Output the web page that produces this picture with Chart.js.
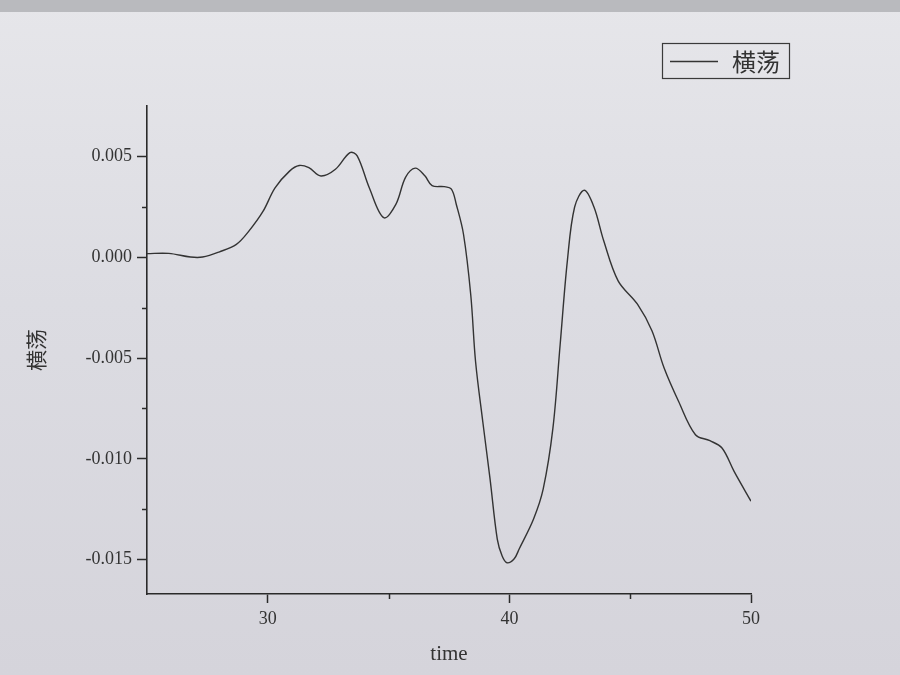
<!DOCTYPE html>
<html>
<head>
<meta charset="utf-8">
<script src="https://cdn.jsdelivr.net/npm/chart.js@4"></script>
<style>
  html, body { margin: 0; padding: 0; }
  body {
    width: 900px; height: 675px; overflow: hidden;
    background: linear-gradient(180deg, #e6e6ea 0%, #dcdce2 45%, #d5d4db 100%);
  }
  #bar { position: absolute; left: 0; top: 0; width: 900px; height: 12px; background: #b9babe; }
  #wrap { position: absolute; left: 0; top: 0; width: 900px; height: 675px; }
</style>
</head>
<body>
<div id="bar"></div>
<div id="wrap"><canvas id="chart"></canvas></div>
<script>
// values
const seriesName = "横荡";
const times = [
  25.0, 25.9, 26.8, 27.3, 28.0, 28.7, 29.2, 29.8, 30.3, 30.9,
  31.3, 31.7, 32.2, 32.8, 33.4, 33.7, 34.2, 34.8, 35.3, 35.7,
  36.1, 36.5, 36.8, 37.3, 37.6, 37.8, 38.1, 38.4, 38.6, 38.9,
  39.2, 39.5, 39.7, 39.9, 40.2, 40.4, 41.0, 41.4, 41.8, 42.1,
  42.4, 42.7, 43.1, 43.5, 43.9, 44.5, 45.3, 45.9, 46.4, 47.0,
  47.7, 48.3, 48.8, 49.3, 50.0
];
const sway = [
  0.00018, 0.00019, 0.00001, 0.00001, 0.00027, 0.00064, 0.00127, 0.00227, 0.00344, 0.00427,
  0.00455, 0.00444, 0.00403, 0.00436, 0.00519, 0.00503, 0.00345, 0.00196, 0.00262, 0.00396,
  0.00442, 0.00404, 0.00355, 0.00350, 0.00338, 0.00263, 0.00114, -0.00186, -0.00518, -0.00817,
  -0.01100, -0.01399, -0.01482, -0.01515, -0.01495, -0.01448, -0.01298, -0.01149, -0.00849, -0.00434,
  -0.00017, 0.00249, 0.00332, 0.00249, 0.00083, -0.00117, -0.00233, -0.00365, -0.00548, -0.00714,
  -0.00880, -0.00910, -0.00946, -0.01062, -0.01210
];
const xMajor = [30, 40, 50];
const xMinor = [35, 45];
const yMajor = [-0.015, -0.010, -0.005, 0.000, 0.005];
const yMinor = [-0.0125, -0.0075, -0.0025, 0.0025];

const axisColor = "#2a2a2a";
const tickFont = { family: "'Liberation Serif', 'DejaVu Serif', serif", size: 18 };
const cjkFont = "'Noto Sans CJK SC', 'Liberation Serif', serif";

const points = times.map((t, i) => ({ x: t, y: sway[i] }));

// Origin-style minor ticks and the boxed legend
const extras = {
  id: "extras",
  afterDraw(chart) {
    const ctx = chart.ctx;
    const xs = chart.scales.x, ys = chart.scales.y;
    const area = chart.chartArea;
    ctx.save();
    ctx.strokeStyle = axisColor;
    ctx.lineWidth = 1.5;
    xMinor.forEach(v => {
      const px = Math.round(xs.getPixelForValue(v)) + 0.5;
      ctx.beginPath(); ctx.moveTo(px, area.bottom); ctx.lineTo(px, area.bottom + 5); ctx.stroke();
    });
    yMinor.forEach(v => {
      const py = Math.round(ys.getPixelForValue(v)) + 0.5;
      ctx.beginPath(); ctx.moveTo(area.left, py); ctx.lineTo(area.left - 5, py); ctx.stroke();
    });

    // legend box
    ctx.lineWidth = 1.2;
    ctx.strokeStyle = "#3a3a3a";
    ctx.strokeRect(662.5, 43.5, 127, 35);
    ctx.strokeStyle = chart.data.datasets[0].borderColor;
    ctx.lineWidth = 1.3;
    ctx.beginPath(); ctx.moveTo(670, 61.5); ctx.lineTo(718, 61.5); ctx.stroke();
    ctx.fillStyle = "#333";
    ctx.font = "24px " + cjkFont;
    ctx.textBaseline = "middle";
    ctx.fillText(chart.data.datasets[0].label, 732, 62);
    ctx.restore();
  }
};

new Chart(document.getElementById("chart"), {
  type: "line",
  data: {
    datasets: [{
      label: seriesName,
      data: points,
      borderColor: "#333333",
      borderWidth: 1.4,
      pointRadius: 0,
      fill: false,
      tension: 0.35,
    }],
  },
  options: {
    responsive: true,
    maintainAspectRatio: false,
    animation: false,
    layout: { padding: { left: 20, top: 106, right: 149, bottom: 0 } },
    plugins: { legend: { display: false }, tooltip: { enabled: false } },
    scales: {
      x: {
        type: "linear",
        min: 25,
        max: 50,
        afterBuildTicks: s => { s.ticks = xMajor.map(v => ({ value: v })); },
        afterFit: s => { s.height = 81; },
        ticks: { color: "#333", font: tickFont, padding: 5, maxRotation: 0 },
        grid: { drawOnChartArea: false, drawTicks: true, tickLength: 9, tickColor: axisColor, tickWidth: 1.5 },
        border: { display: true, color: axisColor, width: 1.6 },
        title: { display: true, text: "time", color: "#333", font: { family: tickFont.family, size: 21 }, padding: { top: 0, bottom: 8 } },
      },
      y: {
        type: "linear",
        min: -0.0167,
        max: 0.0075,
        afterBuildTicks: s => { s.ticks = yMajor.map(v => ({ value: v })); },
        afterFit: s => { s.width = 127; },
        ticks: { color: "#333", font: tickFont, padding: 5, callback: v => v.toFixed(3) },
        grid: { drawOnChartArea: false, drawTicks: true, tickLength: 10, tickColor: axisColor, tickWidth: 1.5 },
        border: { display: true, color: axisColor, width: 1.6 },
        title: { display: true, text: seriesName, color: "#333", font: { family: cjkFont, size: 21 }, padding: { top: 3, bottom: 0 } },
      },
    },
  },
  plugins: [extras],
});
</script>
</body>
</html>
